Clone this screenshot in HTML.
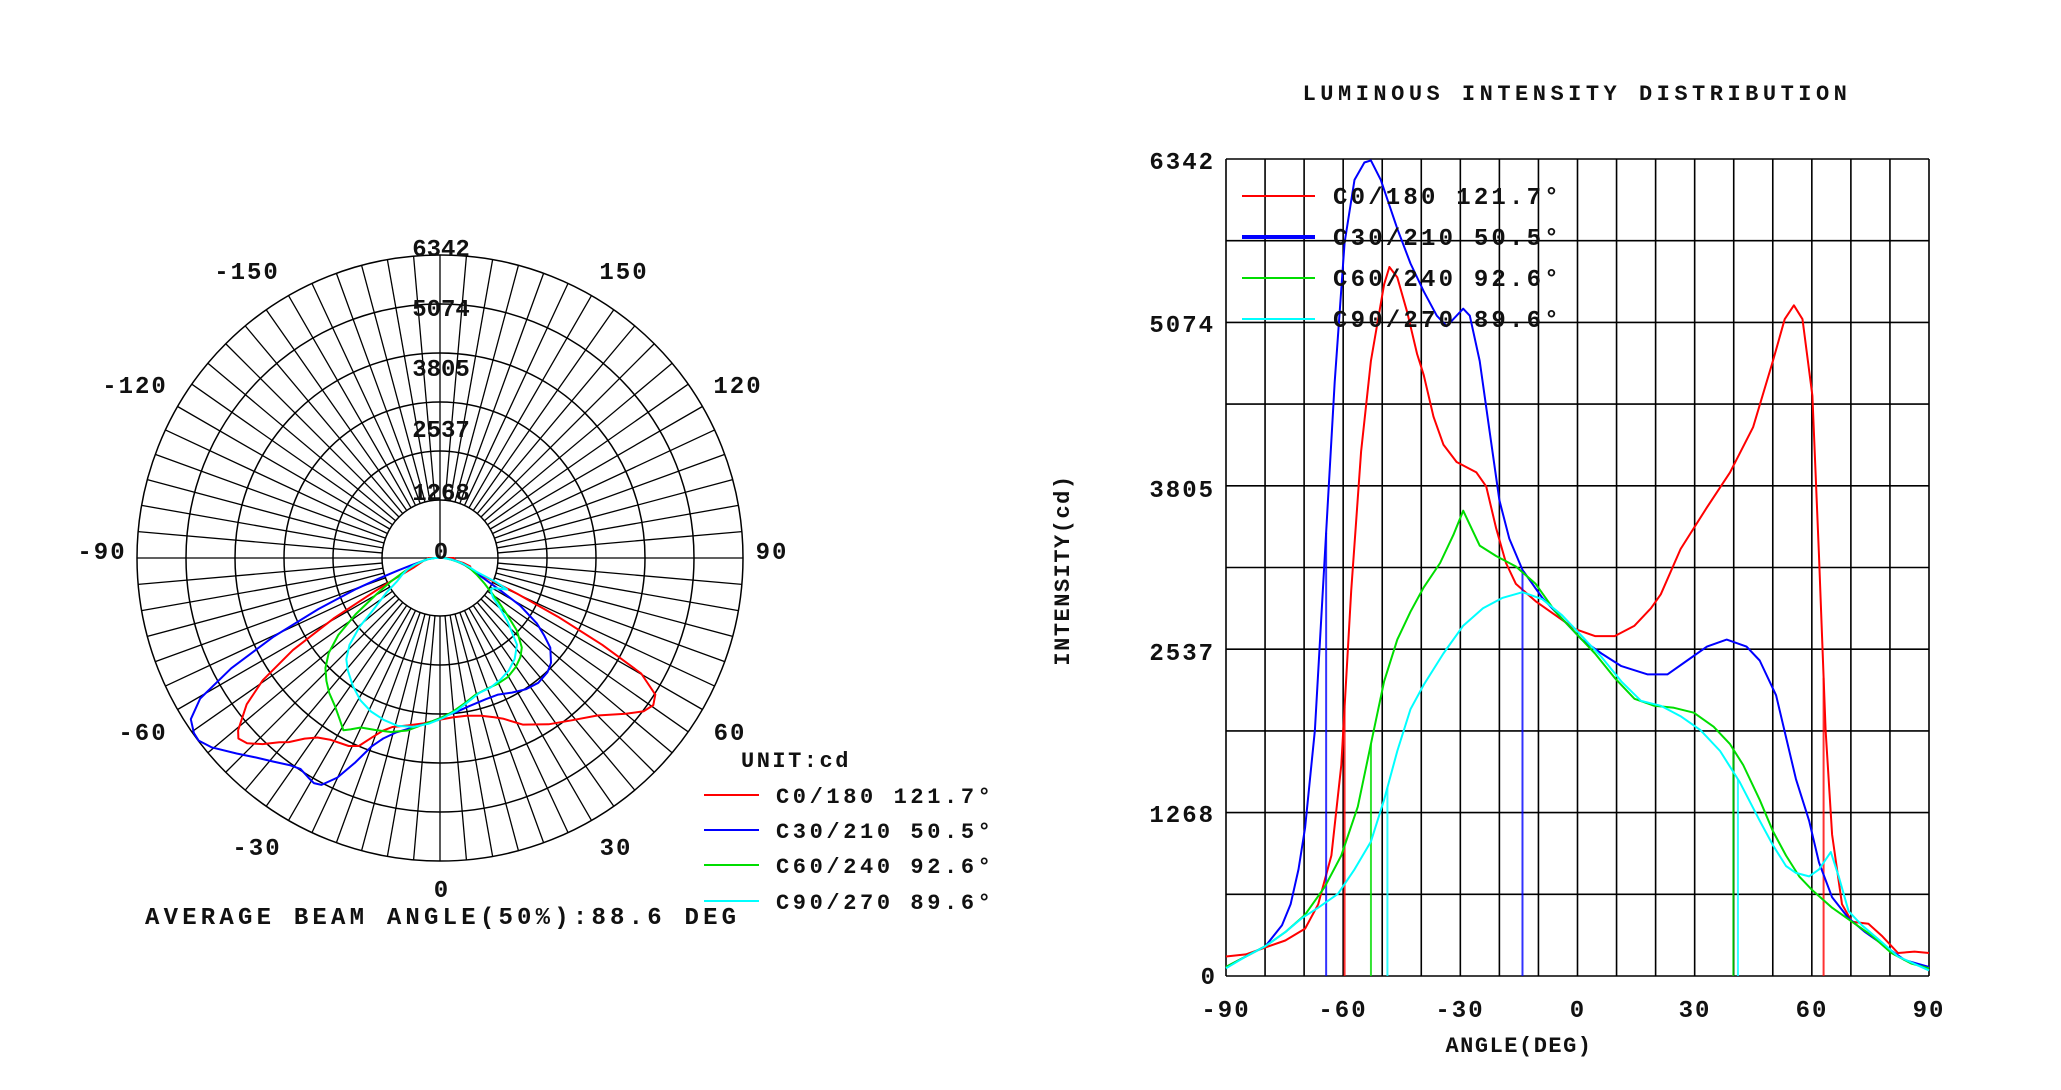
<!DOCTYPE html>
<html><head><meta charset="utf-8"><style>
html,body{margin:0;padding:0;background:#fff;}
svg{display:block;}
text{font-family:"Liberation Mono",monospace;font-weight:bold;fill:#111;}
</style></head><body>
<svg id="s" width="2061" height="1090" viewBox="0 0 2061 1090" xmlns="http://www.w3.org/2000/svg">
<g id="polar"></g>
<g id="cart"></g>
<g id="txt" font-size="24">
<text x="247" y="279" text-anchor="middle" letter-spacing="2">-150</text>
<text x="624" y="279" text-anchor="middle" letter-spacing="2">150</text>
<text x="135" y="393" text-anchor="middle" letter-spacing="2">-120</text>
<text x="738" y="393" text-anchor="middle" letter-spacing="2">120</text>
<text x="102" y="559" text-anchor="middle" letter-spacing="2">-90</text>
<text x="772" y="559" text-anchor="middle" letter-spacing="2">90</text>
<text x="143" y="740" text-anchor="middle" letter-spacing="2">-60</text>
<text x="730" y="740" text-anchor="middle" letter-spacing="2">60</text>
<text x="257" y="855" text-anchor="middle" letter-spacing="2">-30</text>
<text x="616" y="855" text-anchor="middle" letter-spacing="2">30</text>
<text x="441" y="897" text-anchor="middle">0</text>
<text x="441" y="256" text-anchor="middle">6342</text>
<text x="441" y="316" text-anchor="middle">5074</text>
<text x="441" y="376" text-anchor="middle">3805</text>
<text x="441" y="437" text-anchor="middle">2537</text>
<text x="441" y="500" text-anchor="middle">1268</text>
<text x="441" y="559" text-anchor="middle">0</text>
<text x="145" y="924" letter-spacing="4.2">AVERAGE BEAM ANGLE(50%):88.6 DEG</text>
<text x="741" y="767" font-size="22" letter-spacing="2.5">UNIT:cd</text>
<text x="776" y="803" font-size="22" letter-spacing="3.6">C0/180 121.7°</text>
<text x="776" y="838" font-size="22" letter-spacing="3.6">C30/210 50.5°</text>
<text x="776" y="873" font-size="22" letter-spacing="3.6">C60/240 92.6°</text>
<text x="776" y="909" font-size="22" letter-spacing="3.6">C90/270 89.6°</text>
<line x1="704" y1="795" x2="759" y2="795" stroke="#f00" stroke-width="2"/>
<line x1="704" y1="830" x2="759" y2="830" stroke="#00f" stroke-width="2"/>
<line x1="704" y1="865" x2="759" y2="865" stroke="#0d0" stroke-width="2"/>
<line x1="704" y1="901" x2="759" y2="901" stroke="#0ff" stroke-width="2"/>

<text x="1577" y="100" font-size="22" text-anchor="middle" letter-spacing="4.5">LUMINOUS INTENSITY DISTRIBUTION</text>
<text x="1215" y="169" text-anchor="end" letter-spacing="2">6342</text>
<text x="1215" y="332" text-anchor="end" letter-spacing="2">5074</text>
<text x="1215" y="497" text-anchor="end" letter-spacing="2">3805</text>
<text x="1215" y="660" text-anchor="end" letter-spacing="2">2537</text>
<text x="1215" y="822" text-anchor="end" letter-spacing="2">1268</text>
<text x="1215" y="984" text-anchor="end">0</text>
<text x="1226" y="1017" text-anchor="middle" letter-spacing="2">-90</text>
<text x="1343" y="1017" text-anchor="middle" letter-spacing="2">-60</text>
<text x="1460" y="1017" text-anchor="middle" letter-spacing="2">-30</text>
<text x="1577" y="1017" text-anchor="middle">0</text>
<text x="1695" y="1017" text-anchor="middle" letter-spacing="2">30</text>
<text x="1812" y="1017" text-anchor="middle" letter-spacing="2">60</text>
<text x="1929" y="1017" text-anchor="middle" letter-spacing="2">90</text>
<text x="1519" y="1052" font-size="22" text-anchor="middle" letter-spacing="1.5">ANGLE(DEG)</text>
<text transform="translate(1069,570) rotate(-90)" font-size="22" text-anchor="middle" letter-spacing="1.5">INTENSITY(cd)</text>
</g>
<g id="cleg">
<line x1="1242" y1="196" x2="1315" y2="196" stroke="#f00" stroke-width="2"/>
<line x1="1242" y1="237" x2="1315" y2="237" stroke="#00f" stroke-width="4"/>
<line x1="1242" y1="278" x2="1315" y2="278" stroke="#0d0" stroke-width="2"/>
<line x1="1242" y1="319" x2="1315" y2="319" stroke="#0ff" stroke-width="2"/>
<text x="1333" y="204" font-size="24" letter-spacing="3.2">C0/180 121.7°</text>
<text x="1333" y="245" font-size="24" letter-spacing="3.2">C30/210 50.5°</text>
<text x="1333" y="286" font-size="24" letter-spacing="3.2">C60/240 92.6°</text>
<text x="1333" y="327" font-size="24" letter-spacing="3.2">C90/270 89.6°</text>
</g>
</svg>
<script>
var NS="http://www.w3.org/2000/svg";
function el(p,t,a){var e=document.createElementNS(NS,t);for(var k in a)e.setAttribute(k,a[k]);p.appendChild(e);return e;}
var data={
red:[[300,1375],[330,1372],[360,1362],[390,1352],[420,1335],[440,1300],[460,1230],[475,1100],[490,850],[505,650],[520,520],[540,410],[548,385],[560,400],[575,450],[590,510],[600,540],[615,600],[630,640],[650,665],[680,680],[695,700],[710,760],[725,810],[740,840],[770,865],[800,885],[830,905],[860,915],[890,915],[920,900],[945,875],[960,855],[990,790],[1030,730],[1065,680],[1100,615],[1130,520],[1148,460],[1162,440],[1175,460],[1190,570],[1200,800],[1210,1050],[1220,1200],[1235,1300],[1250,1325],[1275,1328],[1295,1345],[1320,1370],[1345,1368],[1367,1370]],
blue:[[300,1390],[330,1375],[360,1360],[385,1330],[398,1300],[410,1250],[420,1190],[435,1050],[450,800],[465,550],[480,350],[495,260],[510,235],[520,232],[535,260],[560,330],[580,380],[600,420],[620,455],[635,470],[650,455],[660,445],[670,455],[685,520],[700,620],[715,720],[730,775],[750,820],[780,860],[810,890],[840,920],[870,940],[900,958],[940,970],[970,970],[1000,950],[1030,930],[1060,920],[1090,930],[1110,950],[1135,1000],[1150,1060],[1165,1120],[1185,1180],[1200,1240],[1220,1290],[1245,1320],[1270,1340],[1300,1360],[1330,1380],[1367,1390]],
green:[[300,1390],[330,1375],[360,1360],[390,1340],[420,1315],[450,1275],[475,1230],[500,1160],[520,1070],[540,980],[560,920],[580,880],[600,845],[625,810],[645,770],[660,735],[670,755],[685,785],[710,800],[740,815],[770,840],[800,880],[830,910],[860,940],[890,975],[920,1005],[950,1015],[980,1018],[1010,1025],[1040,1045],[1065,1070],[1085,1100],[1110,1150],[1130,1195],[1150,1230],[1170,1260],[1190,1280],[1220,1305],[1250,1325],[1280,1345],[1310,1370],[1340,1385],[1367,1392]],
cyan:[[300,1392],[330,1375],[360,1360],[390,1340],[415,1320],[440,1305],[470,1285],[495,1250],[520,1210],[540,1150],[560,1080],[580,1020],[600,985],[630,940],[660,900],[690,875],[720,860],[750,852],[780,862],[810,885],[840,915],[870,945],[900,980],[930,1008],[960,1015],[990,1030],[1020,1050],[1050,1080],[1080,1125],[1110,1180],[1130,1215],[1150,1245],[1165,1255],[1185,1260],[1200,1250],[1218,1225],[1230,1260],[1245,1310],[1265,1330],[1290,1350],[1320,1375],[1367,1395]]};
var cols={red:"#f00",blue:"#00f",green:"#0d0",cyan:"#0ff"};
var verts={red:[480,1207],blue:[452,750],green:[520,1070],cyan:[545,1077]};
var C=document.getElementById("cart");
var L=1226,R=1929,T=159,B=976;
for(var i=0;i<=18;i++){var x=L+(R-L)*i/18;el(C,"line",{x1:x,y1:T,x2:x,y2:B,stroke:"#000","stroke-width":1.6});}
for(var j=0;j<=10;j++){var y=T+(B-T)*j/10;el(C,"line",{x1:L,y1:y,x2:R,y2:y,stroke:"#000","stroke-width":1.6});}
function cx(xz){return L+(xz-300)/1067*(R-L);}
function cy(yz){return T+(yz-230)/1173*(B-T);}
function interpY(arr,xz){for(var k=0;k<arr.length-1;k++){if(arr[k][0]<=xz&&arr[k+1][0]>=xz){var t=(xz-arr[k][0])/(arr[k+1][0]-arr[k][0]);return arr[k][1]+t*(arr[k+1][1]-arr[k][1]);}}return 1403;}
for(var n in data){
 var d=data[n].map(function(p){return cx(p[0]).toFixed(1)+","+cy(p[1]).toFixed(1);}).join(" ");
 el(C,"polyline",{points:d,fill:"none",stroke:cols[n],"stroke-width":2,"stroke-linejoin":"round"});
 verts[n].forEach(function(v){el(C,"line",{x1:cx(v),y1:B,x2:cx(v),y2:cy(interpY(data[n],v)),stroke:cols[n],"stroke-width":2,opacity:0.8});});
}
var P=document.getElementById("polar");
var pcx=440,pcy=558,R0=58,R1=303;
var g=el(P,"g",{transform:"translate("+pcx+","+pcy+")"});
for(var a=0;a<360;a+=5){var th=a*Math.PI/180;el(g,"line",{x1:R0*Math.sin(th),y1:R0*Math.cos(th),x2:R1*Math.sin(th),y2:R1*Math.cos(th),stroke:"#000","stroke-width":1.3});}
for(var r=0;r<=5;r++){el(g,"circle",{cx:0,cy:0,r:R0+(R1-R0)*r/5,fill:"none",stroke:"#000","stroke-width":1.5});}
el(g,"line",{x1:-R0,y1:0,x2:R0,y2:0,stroke:"#000","stroke-width":1.3});
el(g,"line",{x1:0,y1:0,x2:0,y2:-R0,stroke:"#000","stroke-width":1.3});
for(var n in data){
 var pts=["0,0"];
 data[n].forEach(function(p){var ang=(-90+(p[0]-300)/1067*180)*Math.PI/180;var v=Math.max(0,(1403-p[1])/1173*6342);var rr=R0*Math.min(1,v/1500)+v/6342*(R1-R0);pts.push((rr*Math.sin(ang)).toFixed(1)+","+(rr*Math.cos(ang)).toFixed(1));});
 pts.push("0,0");
 el(g,"polyline",{points:pts.join(" "),fill:"none",stroke:cols[n],"stroke-width":2,"stroke-linejoin":"round"});
}
</script>
</body></html>
